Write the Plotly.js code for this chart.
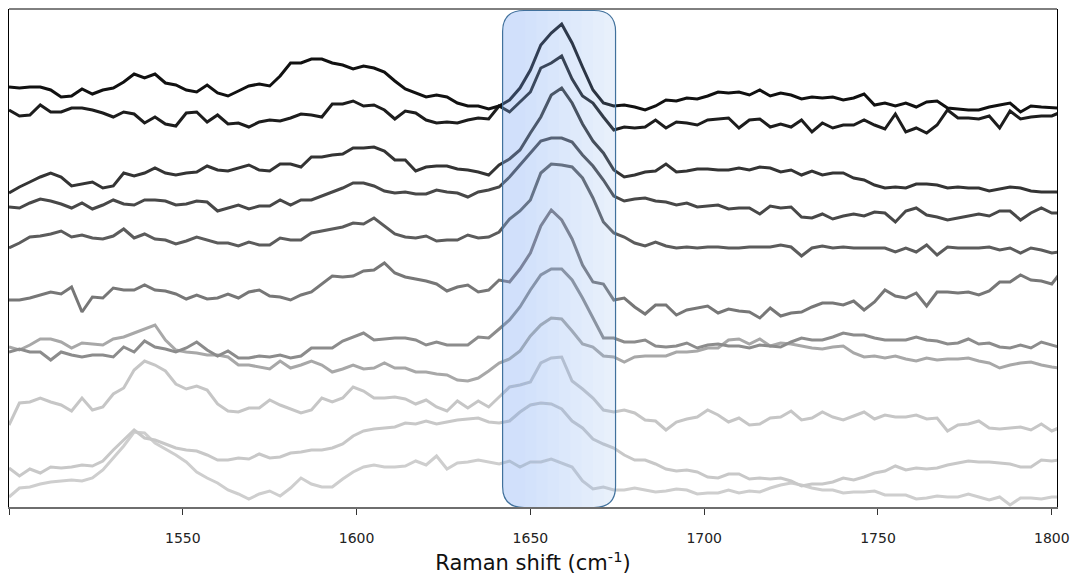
<!DOCTYPE html>
<html>
<head>
<meta charset="utf-8">
<script src="https://cdn.plot.ly/plotly-3.0.1.min.js"></script>
<style>html,body{margin:0;padding:0;background:#fff}#chart{width:1073px;height:576px}</style>
</head>
<body>
<div id="chart"></div>
<script>
// Raman shift (cm-1)
const ramanShift = [
1500,1503,1506,1509,1512,1515,1518,1521,1524,1527,
1530,1533,1536,1539,1542,1545,1548,1551,1554,1557,
1560,1563,1566,1569,1572,1575,1578,1581,1584,1587,
1590,1593,1596,1599,1602,1605,1608,1611,1614,1617,
1620,1623,1626,1629,1632,1635,1638,1641,1644,1647,
1650,1653,1656,1659,1662,1665,1668,1671,1674,1677,
1680,1683,1686,1689,1692,1695,1698,1701,1704,1707,
1710,1713,1716,1719,1722,1725,1728,1731,1734,1737,
1740,1743,1746,1749,1752,1755,1758,1761,1764,1767,
1770,1773,1776,1779,1782,1785,1788,1791,1794,1797,
1800,1802];

// Offset (stacked) intensities, arbitrary units, top spectrum first
const spectrum1 = [
420,419,420,420,417,410,411,418,413,417,
419,425,433,429,433,424,422,417,415,422,
414,411,416,421,423,421,431,444,444,448,
448,444,442,438,441,439,435,426,418,414,
410,412,410,404,401,401,398,401,407,419,
437,462,474,483,464,440,417,404,401,402,
400,397,401,407,406,409,408,411,415,414,
415,412,417,411,414,412,408,410,409,410,
407,409,413,402,404,401,404,400,405,406,
399,398,397,397,400,402,404,395,401,400,
399,399];
const spectrum2 = [
397,391,392,402,395,395,399,399,397,394,
390,395,393,384,390,383,381,394,395,385,
392,383,384,380,385,387,386,389,393,392,
390,403,403,406,401,402,397,388,396,394,
387,384,385,384,387,389,388,401,395,405,
415,439,444,451,428,411,404,390,377,380,
379,380,387,379,385,384,382,387,388,389,
379,387,388,380,383,380,387,375,384,379,
382,382,387,382,378,393,375,379,374,382,
397,389,389,388,391,379,396,388,390,391,
391,394];
const spectrum3 = [
314,320,325,330,334,330,321,323,325,319,
321,334,331,334,339,334,332,334,335,341,
337,336,339,342,337,336,343,343,340,350,
350,352,353,359,359,360,356,347,347,336,
340,341,341,338,337,335,332,342,348,357,
374,390,412,419,404,383,366,354,337,330,
332,335,336,343,335,336,338,338,337,337,
339,337,340,339,335,337,332,336,332,334,
334,329,327,322,319,320,319,323,323,322,
319,320,319,319,316,318,320,319,316,315,
315,315];
const spectrum4 = [
300,299,304,308,306,303,299,304,298,302,
307,303,302,307,307,306,302,303,306,305,
296,299,302,298,301,301,307,302,307,307,
311,315,319,324,324,321,316,314,315,313,
313,317,315,314,310,315,317,320,330,342,
354,366,369,369,365,352,341,327,311,306,
308,309,306,305,302,304,300,301,302,298,
299,299,293,301,299,300,290,289,293,288,
291,293,291,295,294,285,296,299,292,290,
287,289,291,293,291,296,296,287,294,299,
294,294];
const spectrum5 = [
259,264,270,271,273,276,270,272,269,268,
271,278,269,273,268,267,263,266,270,267,
264,264,261,265,262,262,269,267,267,274,
276,278,280,284,283,289,281,273,270,269,
271,266,267,267,272,269,270,275,288,296,
307,334,343,342,340,329,309,285,274,270,
264,261,265,261,259,260,259,260,260,259,
259,260,260,260,262,260,251,259,261,259,
260,259,259,259,259,255,259,255,262,252,
260,259,259,259,260,257,259,254,259,257,
254,255];
const spectrum6 = [
207,207,209,212,215,213,220,195,210,209,
219,217,217,222,217,216,213,208,212,208,
209,213,209,215,217,211,210,207,212,215,
223,231,230,231,236,237,244,234,230,228,
226,223,216,220,222,215,217,227,225,238,
254,281,297,287,268,242,225,223,207,209,
200,193,202,202,192,197,199,201,194,198,
196,195,189,199,191,194,195,200,204,204,
202,206,197,205,217,211,209,214,201,215,
215,214,215,212,216,225,225,232,227,226,
223,232];
const spectrum7 = [
155,158,155,155,147,155,152,150,152,152,
150,160,155,166,160,158,155,159,165,157,
151,156,149,149,151,150,152,149,151,159,
159,159,166,170,174,167,168,169,169,167,
162,165,162,162,162,170,169,178,187,200,
217,232,238,238,227,209,189,169,169,165,
165,167,161,160,161,164,159,162,163,161,
161,159,162,161,160,165,169,167,167,170,
174,172,172,169,167,167,167,170,167,166,
163,164,168,163,164,160,159,162,159,165,
162,160];
const spectrum8 = [
160,157,162,168,168,165,159,164,163,162,
168,170,174,178,182,167,157,155,154,152,
152,150,142,142,140,138,146,139,142,146,
142,135,138,142,138,139,144,139,139,135,
135,133,132,127,126,129,136,144,148,156,
171,182,189,188,176,163,160,151,150,145,
150,151,151,151,155,155,156,159,159,167,
168,163,168,161,164,163,161,159,158,160,
161,154,150,151,149,151,148,146,149,147,
148,148,149,146,144,139,142,144,145,142,
140,139];
const spectrum9 = [
82,104,105,109,105,102,96,109,97,100,
113,119,137,146,142,136,123,118,121,117,
103,96,95,99,99,107,102,98,94,97,
109,105,109,120,116,109,109,110,108,103,
107,100,96,106,99,106,100,110,120,122,
125,144,149,150,126,118,109,97,95,97,
94,87,86,77,85,88,90,97,92,85,
89,82,83,89,90,96,87,89,95,90,
87,91,95,88,92,90,90,92,88,89,
76,82,83,86,79,78,79,80,77,83,
76,79];
const spectrum10 = [
39,31,38,34,40,39,40,42,41,46,
57,67,77,69,67,63,59,57,56,52,
47,47,49,48,53,49,50,54,55,57,
57,59,63,71,76,78,79,80,84,83,
86,83,85,87,88,89,85,84,86,95,
102,104,103,98,86,79,68,63,59,52,
47,47,43,38,36,37,35,30,29,33,
33,28,29,28,29,26,21,23,23,25,
29,27,30,34,36,41,37,39,38,39,
42,44,46,45,45,44,43,40,40,47,
46,47];
const spectrum11 = [
10,19,20,23,25,26,27,26,29,37,
49,61,75,74,64,58,52,45,35,29,
24,17,13,8,13,16,11,19,29,23,
20,20,28,35,40,42,40,40,41,46,
42,51,38,44,45,47,45,43,46,40,
45,45,48,44,40,26,18,20,17,17,
19,17,15,16,18,17,13,14,14,17,
14,16,15,19,22,24,22,19,17,17,
14,15,15,16,12,12,12,8,9,11,
10,10,13,10,7,10,2,9,9,8,
10,10];

const seriesList = [spectrum1,spectrum2,spectrum3,spectrum4,spectrum5,spectrum6,spectrum7,spectrum8,spectrum9,spectrum10,spectrum11];
const seriesColors = ['#111111','#1d1d1d','#343434','#484848','#5c5c5c','#777777','#8c8c8c','#a8a8a8','#c6c6c6','#c8c8c8','#cecece'];

// highlighted band (amide I region)
const bandStart = 1642.0, bandEnd = 1674.5;
const tickValues = [1500,1550,1600,1650,1700,1750,1800];
const tickLabels = ['','1550','1600','1650','1700','1750','1800'];

const traces = [];
for (let k = seriesList.length - 1; k >= 0; k--) {
  traces.push({
    x: ramanShift, y: seriesList[k], type: 'scatter', mode: 'lines',
    line: {color: seriesColors[k], width: 3}, hoverinfo: 'skip', showlegend: false
  });
}

// rounded highlight box with a soft left-to-right gradient (stacked translucent layers)
const yTop = 496.5, yBot = -0.5, rx = 6.2, ry = 21;
function roundedPath(x0, x1, roundRight) {
  const rr = roundRight ? rx : 0, rry = roundRight ? ry : 0;
  return `M ${x0+rx},${yTop} L ${x1-rr},${yTop} Q ${x1},${yTop} ${x1},${yTop-rry} L ${x1},${yBot+rry} Q ${x1},${yBot} ${x1-rr},${yBot} L ${x0+rx},${yBot} Q ${x0},${yBot} ${x0},${yBot+ry} L ${x0},${yTop-ry} Q ${x0},${yTop} ${x0+rx},${yTop} Z`;
}
const shapes = [
  {type: 'line', xref: 'paper', yref: 'paper', x0: 0, x1: 1, y0: 1, y1: 1, line: {color: '#000000', width: 1}},
  {type: 'path', xref: 'x', yref: 'y', path: roundedPath(bandStart, bandEnd, true), layer: 'above',
   fillcolor: 'rgba(140,182,236,0.2)', line: {width: 0}}
];
const nSteps = 10, w = (bandEnd - bandStart) / nSteps;
for (let k = 2; k < nSteps; k++) {
  shapes.push({type: 'path', xref: 'x', yref: 'y', path: roundedPath(bandStart, bandStart + k * w, false),
    layer: 'above', fillcolor: 'rgba(140,182,236,0.022)', line: {width: 0}});
}
shapes.push({type: 'path', xref: 'x', yref: 'y', path: roundedPath(bandStart, bandEnd, true), layer: 'above',
  fillcolor: 'rgba(0,0,0,0)', line: {color: '#41719c', width: 1.2}});

const layout = {
  width: 1073, height: 576,
  margin: {l: 9, r: 16, t: 9, b: 69},
  paper_bgcolor: '#ffffff', plot_bgcolor: '#ffffff',
  showlegend: false,
  xaxis: {
    range: [1500, 1801.5], showgrid: false, zeroline: false,
    showline: true, linecolor: '#6e6e6e', linewidth: 2, mirror: false,
    ticks: 'outside', ticklen: 6, tickwidth: 1, tickcolor: '#333333',
    tickvals: tickValues, ticktext: tickLabels,
    tickfont: {family: 'DejaVu Sans, sans-serif', size: 14, color: '#222222'},
    ticklabelstandoff: 11,
    title: {text: 'Raman shift (cm<sup>-1</sup>)', font: {family: 'DejaVu Sans, sans-serif', size: 21, color: '#111111'}, standoff: 11}
  },
  yaxis: {
    range: [0, 498], showgrid: false, zeroline: false, showticklabels: false, ticks: '',
    showline: true, linecolor: '#000000', linewidth: 1, mirror: true
  },
  shapes: shapes
};

Plotly.newPlot('chart', traces, layout, {staticPlot: true, displayModeBar: false});
</script>
</body>
</html>
